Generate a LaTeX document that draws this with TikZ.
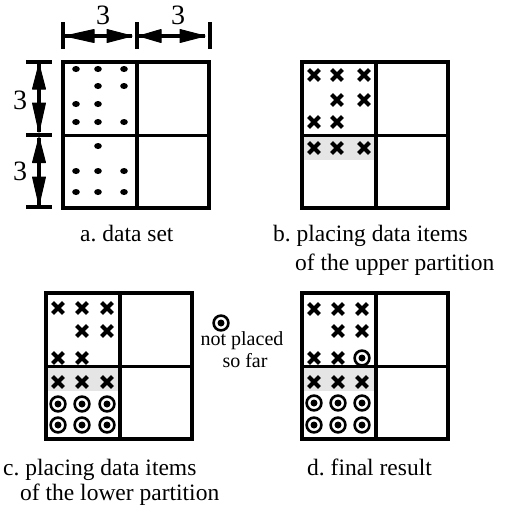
\documentclass[tikz,border=0pt]{standalone}
\usepackage{fontspec}
\setmainfont{Liberation Serif}
\frenchspacing

\begin{document}
\begin{tikzpicture}[x=1pt,y=-1pt,
  frame/.style={line width=3.4pt},
  tickline/.style={line width=3.2pt},
  dimline/.style={line width=3.2pt},
  head/.style={fill=black, draw=black, line width=1pt, line join=round},
  band/.style={fill=black!10, draw=none},
  caption/.style={font=\fontsize{23.5}{28}\selectfont, anchor=base west, inner sep=0pt},
  dimlabel/.style={font=\fontsize{28}{30}\selectfont, inner sep=0pt},
  legendtext/.style={font=\fontsize{20}{22}\selectfont, anchor=base, inner sep=0pt},
  panel/.pic={
    \draw[frame] (0,0) rectangle (146,146);
    \draw[frame] (74,0) -- (74,146);
    \draw[frame] (0,73.5) -- (146,73.5);
  },
  bandpic/.pic={\fill[band] (0,73.5) rectangle (73,97.5);},
  xmark/.pic={\draw[line width=4pt]
    (-5.4,-5.4) -- (5.4,5.4) (-5.4,5.4) -- (5.4,-5.4);},
  ring/.pic={\draw[line width=2.6pt] (0,0) circle (7.4);
    \fill (0,0) circle (3.5);},
  blob/.pic={\fill (0,0) ellipse (3.8 and 3);},
]
\useasboundingbox (0,0) rectangle (505,507);

% ---------- a. data set ----------
\begin{scope}[shift={(63,62)}]
  \foreach \x/\y in {13/7,35/7,61/7, 35/24,61/24, 13/42,35/42,
                     13/60,35/60,61/60, 35/84, 13/109,35/109,61/109,
                     13/130,35/130,61/130}
    \pic at (\x,\y) {blob};
  \pic at (0,0) {panel};
\end{scope}

% dimension marks above
\draw[tickline] (63,22) -- (63,49);
\draw[tickline] (137,22) -- (137,49);
\draw[tickline] (210,22) -- (210,49);
\coordinate (ta1) at (65,36);  \coordinate (tb1) at (132,36);
\coordinate (ta2) at (139,36); \coordinate (tb2) at (205,36);
\draw[dimline] (ta1) -- (tb1);
\draw[dimline] (ta2) -- (tb2);
\path[head] (ta1) -- ++(29,-6.5) -- ++(0,13) -- cycle;
\path[head] (tb1) -- ++(-25,-6.5) -- ++(0,13) -- cycle;
\path[head] (ta2) -- ++(22,-6.5) -- ++(0,13) -- cycle;
\path[head] (tb2) -- ++(-25,-6.5) -- ++(0,13) -- cycle;
\node[dimlabel] (dimtop1) at (103,15) {3};
\node[dimlabel] (dimtop2) at (178,15) {3};

% dimension marks on the left
\draw[tickline] (26,62) -- (52,62);
\draw[tickline] (26,135) -- (52,135);
\draw[tickline] (26,207) -- (52,207);
\coordinate (la1) at (39,64);  \coordinate (lb1) at (39,132);
\coordinate (la2) at (39,137.5); \coordinate (lb2) at (39,205);
\draw[dimline] (la1) -- (lb1);
\draw[dimline] (la2) -- (lb2);
\path[head] (la1) -- ++(-6.5,25) -- ++(13,0) -- cycle;
\path[head] (lb1) -- ++(-6.5,-29) -- ++(13,0) -- cycle;
\path[head] (la2) -- ++(-6.5,25) -- ++(13,0) -- cycle;
\path[head] (lb2) -- ++(-6.5,-28) -- ++(13,0) -- cycle;
\node[dimlabel] (dimleft1) at (20,100) {3};
\node[dimlabel] (dimleft2) at (20,171) {3};

\node[caption] (capa) at (80,241) {a. data set};

% ---------- b. upper partition placed ----------
\begin{scope}[shift={(302,62)}]
  \pic at (0,0.5) {bandpic};
  \foreach \x/\y in {12/13,35/13,62/13, 35/38,62/38, 12/60,35/60,
                     12/86,35/86,62/86}
    \pic at (\x,\y) {xmark};
  \pic at (0,0) {panel};
\end{scope}
\node[caption] (capb1) at (273,241) {b. placing data items};
\node[caption] (capb2) at (295,270) {of the upper partition};

% ---------- c. lower partition placed ----------
\begin{scope}[shift={(46,293)}]
  \pic at (0,0) {bandpic};
  \foreach \x/\y in {12/15,36/15,61/15, 36/38,61/38, 12/65,36/65,
                     12/89,36/89,61/89}
    \pic at (\x,\y) {xmark};
  \foreach \x/\y in {12/111,36/111,61/111, 12/132,36/132,61/132}
    \pic at (\x,\y) {ring};
  \pic at (0,0) {panel};
\end{scope}
\node[caption] (capc1) at (3,475) {c. placing data items};
\node[caption] (capc2) at (20,500) {of the lower partition};

% legend
\pic at (221,323) {ring};
\node[legendtext] (leg1) at (242,345) {not placed};
\node[legendtext] (leg2) at (245,367) {so far};

% ---------- d. final result ----------
\begin{scope}[shift={(302,293)}]
  \pic at (0,0) {bandpic};
  \foreach \x/\y in {12/16,36/16,60/16, 36/38,60/38, 12/65,36/65,
                     12/89,36/89,60/89}
    \pic at (\x,\y) {xmark};
  \foreach \x/\y in {60/65, 12/110,36/110,60/110, 12/132,36/132,60/132}
    \pic at (\x,\y) {ring};
  \pic at (0,0) {panel};
\end{scope}
\node[caption] (capd) at (307,475) {d. final result};

\end{tikzpicture}
\end{document}
